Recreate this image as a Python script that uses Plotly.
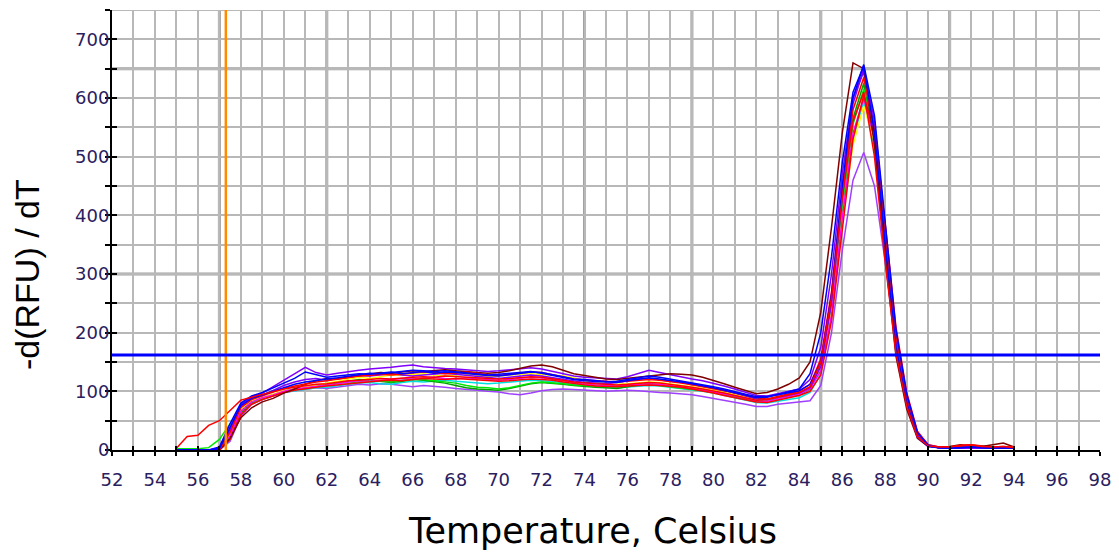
import plotly.graph_objects as go

# ---------------- data ----------------
TEMP = [55.0, 55.5, 56.0, 56.5, 57.0, 57.5, 58.0, 58.5, 59.0, 59.5,
        60.0, 60.5, 61.0, 61.5, 62.0, 62.5, 63.0, 63.5, 64.0, 64.5,
        65.0, 65.5, 66.0, 66.5, 67.0, 67.5, 68.0, 68.5, 69.0, 69.5,
        70.0, 70.5, 71.0, 71.5, 72.0, 72.5, 73.0, 73.5, 74.0, 74.5,
        75.0, 75.5, 76.0, 76.5, 77.0, 77.5, 78.0, 78.5, 79.0, 79.5,
        80.0, 80.5, 81.0, 81.5, 82.0, 82.5, 83.0, 83.5, 84.0, 84.5,
        85.0, 85.5, 86.0, 86.5, 87.0, 87.5, 88.0, 88.5, 89.0, 89.5,
        90.0, 90.5, 91.0, 91.5, 92.0, 92.5, 93.0, 93.5, 94.0]

red_1 = [3, 23, 25, 42, 50, 68, 85, 90, 95, 99,
         104, 107, 110, 112, 113, 116, 118, 119, 121, 122,
         121, 123, 124, 125, 124, 126, 125, 124, 123, 122,
         121, 122, 124, 125, 124, 122, 119, 116, 114, 113,
         112, 111, 112, 114, 115, 114, 112, 109, 107, 104,
         101, 97, 93, 89, 85, 86, 90, 94, 98, 108,
         150, 260, 430, 560, 610, 500, 320, 165, 75, 22,
         7, 5, 5, 8, 9, 6, 5, 6, 4]

green_1 = [2, 2, 2, 4, 18, 45, 70, 82, 88, 95,
           100, 104, 106, 109, 112, 115, 114, 117, 119, 118,
           116, 119, 121, 120, 118, 117, 114, 110, 107, 106,
           104, 106, 110, 114, 116, 115, 113, 111, 110, 109,
           108, 108, 110, 112, 112, 110, 108, 106, 104, 101,
           98, 95, 92, 88, 84, 85, 89, 92, 96, 104,
           140, 245, 410, 555, 615, 520, 345, 180, 85, 28,
           8, 4, 3, 4, 5, 4, 3, 4, 3]

blue_1 = [0, 0, 0, 0, 5, 45, 80, 92, 98, 106,
          115, 122, 133, 128, 124, 126, 128, 130, 129, 131,
          133, 130, 132, 134, 131, 133, 132, 130, 128, 127,
          126, 128, 131, 133, 132, 128, 124, 121, 120, 118,
          117, 115, 118, 121, 123, 121, 119, 116, 113, 110,
          106, 102, 98, 93, 89, 90, 95, 99, 104, 130,
          200, 330, 490, 610, 655, 540, 350, 175, 80, 22,
          6, 4, 3, 4, 5, 4, 3, 4, 3]

purple_1 = [0, 0, 0, 0, 3, 35, 78, 90, 97, 108,
            120, 130, 141, 132, 128, 131, 134, 136, 138, 139,
            141, 143, 145, 142, 140, 139, 138, 137, 135, 134,
            135, 137, 139, 140, 138, 134, 129, 126, 124, 123,
            122, 121, 125, 130, 136, 132, 128, 124, 121, 118,
            114, 109, 104, 98, 93, 92, 96, 100, 104, 120,
            175, 300, 470, 600, 645, 550, 365, 185, 88, 25,
            7, 4, 3, 3, 4, 3, 3, 3, 3]

purple_2 = [0, 0, 0, 0, 0, 15, 58, 78, 86, 92,
            98, 101, 104, 106, 105, 107, 110, 112, 111, 113,
            112, 110, 108, 110, 109, 107, 105, 104, 102, 100,
            99, 96, 94, 97, 101, 103, 104, 103, 102, 101,
            100, 101, 102, 101, 99, 98, 97, 96, 94, 91,
            88, 85, 81, 78, 74, 74, 78, 80, 81, 84,
            110, 200, 340, 460, 507, 450, 320, 180, 90, 30,
            9, 5, 4, 4, 5, 4, 4, 4, 3]

maroon_1 = [0, 0, 0, 0, 0, 20, 55, 72, 82, 88,
            97, 104, 112, 118, 122, 121, 124, 127, 129, 132,
            131, 133, 135, 134, 136, 137, 135, 133, 132, 131,
            132, 135, 139, 143, 145, 142, 136, 130, 127, 124,
            121, 120, 122, 125, 127, 129, 130, 129, 128, 124,
            119, 113, 107, 101, 96, 98, 104, 112, 123, 150,
            235, 380, 540, 660, 650, 520, 330, 160, 70, 20,
            6, 5, 6, 9, 8, 6, 9, 12, 5]

yellow_1 = [0, 0, 0, 0, 0, 28, 70, 84, 90, 96,
            101, 104, 107, 110, 113, 117, 121, 124, 122, 125,
            128, 127, 129, 130, 128, 126, 128, 129, 127, 125,
            126, 128, 129, 130, 129, 127, 126, 123, 118, 115,
            113, 112, 113, 115, 116, 115, 113, 111, 108, 105,
            102, 98, 94, 90, 86, 86, 90, 94, 98, 106,
            140, 235, 390, 520, 586, 525, 370, 195, 92, 30,
            8, 4, 3, 5, 6, 4, 4, 5, 4]

magenta_1 = [0, 0, 0, 0, 0, 24, 66, 82, 89, 94,
             100, 104, 106, 108, 110, 113, 116, 118, 117, 119,
             120, 122, 121, 123, 124, 122, 121, 123, 122, 120,
             119, 120, 122, 124, 123, 121, 118, 115, 112, 111,
             110, 109, 111, 112, 113, 112, 110, 108, 105, 102,
             99, 96, 92, 88, 84, 83, 87, 91, 95, 104,
             135, 230, 395, 540, 600, 530, 360, 190, 88, 27,
             7, 4, 4, 6, 5, 4, 4, 5, 4]

cyan_1 = [0, 0, 0, 0, 0, 18, 62, 80, 87, 93,
          98, 101, 104, 106, 107, 110, 112, 114, 115, 113,
          112, 115, 117, 116, 118, 119, 117, 116, 114, 113,
          114, 116, 118, 119, 118, 117, 115, 112, 110, 108,
          107, 106, 107, 109, 110, 109, 107, 105, 103, 100,
          97, 93, 89, 85, 81, 80, 83, 86, 89, 98,
          130, 225, 385, 530, 595, 515, 350, 185, 86, 26,
          7, 4, 3, 4, 4, 3, 3, 4, 3]

green_2 = [0, 0, 0, 0, 0, 22, 64, 81, 88, 94,
           99, 103, 105, 108, 111, 114, 118, 120, 119, 117,
           115, 117, 120, 119, 117, 114, 110, 106, 104, 103,
           102, 105, 109, 113, 115, 114, 112, 110, 108, 107,
           106, 105, 108, 111, 113, 111, 109, 107, 105, 102,
           99, 95, 91, 87, 83, 84, 88, 91, 94, 103,
           145, 255, 420, 565, 625, 520, 340, 172, 80, 24,
           7, 4, 3, 4, 5, 4, 3, 4, 3]

red_2 = [0, 0, 0, 0, 0, 30, 72, 86, 92, 99,
         105, 109, 113, 116, 118, 121, 124, 126, 127, 129,
         128, 130, 131, 133, 132, 130, 131, 133, 131, 128,
         127, 129, 131, 133, 132, 129, 125, 121, 119, 118,
         117, 116, 117, 119, 120, 119, 117, 114, 111, 108,
         105, 101, 97, 93, 89, 87, 91, 95, 100, 112,
         155, 270, 440, 580, 635, 545, 375, 195, 90, 28,
         8, 5, 5, 7, 8, 6, 5, 6, 5]

blue_2 = [0, 0, 0, 0, 2, 38, 76, 88, 94, 100,
          107, 112, 116, 119, 121, 123, 126, 129, 131, 130,
          132, 135, 136, 135, 134, 135, 133, 131, 129, 128,
          129, 131, 133, 134, 131, 127, 123, 120, 118, 117,
          116, 117, 120, 124, 126, 124, 121, 118, 115, 112,
          108, 104, 99, 95, 91, 91, 94, 97, 101, 112,
          150, 265, 450, 600, 657, 570, 390, 205, 95, 30,
          8, 4, 3, 4, 5, 4, 3, 4, 3]

red_3 = [0, 0, 0, 0, 0, 18, 60, 78, 86, 92,
         98, 102, 105, 107, 109, 111, 113, 115, 117, 118,
         119, 118, 120, 122, 121, 120, 122, 121, 119, 118,
         117, 118, 120, 121, 120, 119, 116, 113, 111, 109,
         108, 108, 109, 110, 111, 110, 109, 107, 104, 101,
         97, 93, 89, 86, 82, 81, 85, 89, 93, 100,
         128, 220, 380, 530, 605, 540, 385, 210, 98, 32,
         9, 5, 5, 6, 9, 7, 5, 5, 4]

purple_3 = [0, 0, 0, 0, 2, 32, 74, 87, 93, 101,
            110, 116, 120, 122, 119, 122, 125, 127, 126, 128,
            130, 128, 126, 128, 130, 131, 129, 127, 125, 124,
            122, 124, 126, 128, 126, 123, 120, 117, 115, 114,
            113, 115, 118, 121, 122, 120, 118, 115, 112, 109,
            106, 102, 97, 92, 87, 86, 90, 93, 97, 106,
            142, 250, 430, 590, 650, 560, 380, 200, 94, 29,
            8, 4, 3, 3, 4, 3, 3, 3, 3]

SERIES = [
    ("purple_2", purple_2, "#a040ff"),
    ("cyan_1", cyan_1, "#00e0e0"),
    ("green_2", green_2, "#00a000"),
    ("green_1", green_1, "#00e800"),
    ("yellow_1", yellow_1, "#ffff00"),
    ("magenta_1", magenta_1, "#ff00ff"),
    ("red_3", red_3, "#ff0000"),
    ("purple_1", purple_1, "#8000ff"),
    ("purple_3", purple_3, "#8000ff"),
    ("maroon_1", maroon_1, "#800000"),
    ("red_2", red_2, "#ff0000"),
    ("blue_2", blue_2, "#0000ff"),
    ("blue_1", blue_1, "#0000ff"),
    ("red_1", red_1, "#ff0000"),
]

X_TICKS = [52, 54, 56, 58, 60, 62, 64, 66, 68, 70, 72, 74, 76, 78, 80,
           82, 84, 86, 88, 90, 92, 94, 96, 98]
X_LABELS = [str(v) for v in X_TICKS]
Y_TICKS = [0, 100, 200, 300, 400, 500, 600, 700]
Y_LABELS = [str(v) for v in Y_TICKS]

X_RANGE = [52, 98]
Y_RANGE = [0, 750]
BEGIN_TEMP = 57.3          # orange marker line
THRESHOLD = 162            # blue threshold line
THICK_X = [57, 62, 74, 79, 85, 91]
THICK_Y = [300, 650]

# ---------------- figure ----------------
fig = go.Figure()
for name, vals, col in SERIES:
    fig.add_trace(go.Scatter(x=TEMP, y=vals, mode="lines", name=name,
                             line=dict(color=col, width=1.5),
                             showlegend=False, hoverinfo="skip"))

# invisible trace on overlay axes so the inside ticks are drawn
fig.add_trace(go.Scatter(x=[None], y=[None], xaxis="x2", yaxis="y2",
                         showlegend=False, hoverinfo="skip"))

tick_font = dict(family="DejaVu Sans", size=18, color="#2a2060")
grid_col = "#b8b8b8"

fig.update_layout(
    template="none",
    width=1119, height=557,
    margin=dict(l=112, r=19, t=10, b=107, autoexpand=False),
    paper_bgcolor="white", plot_bgcolor="white",
    xaxis=dict(range=X_RANGE, tickmode="array", tickvals=X_TICKS,
               ticktext=X_LABELS, tickfont=tick_font, automargin=False,
               showgrid=True, gridcolor=grid_col, gridwidth=2,
               ticks="outside", ticklen=4, tickwidth=2, tickcolor="black",
               showline=True, linecolor="black", linewidth=2,
               zeroline=False, ticklabelstandoff=8,
               minor=dict(dtick=1, tick0=52, showgrid=True, gridcolor=grid_col,
                          gridwidth=2, ticks="outside", ticklen=4,
                          tickwidth=2, tickcolor="black")),
    yaxis=dict(range=Y_RANGE, tickmode="array", tickvals=Y_TICKS,
               ticktext=Y_LABELS, tickfont=tick_font, automargin=False,
               showgrid=True, gridcolor=grid_col, gridwidth=2,
               ticks="outside", ticklen=5, tickwidth=2, tickcolor="black",
               showline=True, linecolor="black", linewidth=2,
               zeroline=False, ticklabelstandoff=-8,
               minor=dict(dtick=50, tick0=0, showgrid=True, gridcolor=grid_col,
                          gridwidth=2, ticks="outside", ticklen=5,
                          tickwidth=2, tickcolor="black")),
    xaxis2=dict(range=X_RANGE, overlaying="x", anchor="y2", dtick=1, tick0=52,
                ticks="inside", ticklen=4, tickwidth=2, tickcolor="black",
                showticklabels=False, showgrid=False, zeroline=False,
                automargin=False, side="bottom"),
    yaxis2=dict(range=Y_RANGE, overlaying="y", anchor="x2", dtick=50, tick0=0,
                ticks="inside", ticklen=5, tickwidth=2, tickcolor="black",
                showticklabels=False, showgrid=False, zeroline=False,
                automargin=False, side="left"),
)

shapes = []
for xv in THICK_X:
    shapes.append(dict(type="line", xref="x", yref="paper", x0=xv, x1=xv,
                       y0=0, y1=1, layer="below",
                       line=dict(color="#a0a0a0", width=3)))
for yv in THICK_Y:
    shapes.append(dict(type="line", xref="paper", yref="y", x0=0, x1=1,
                       y0=yv, y1=yv, layer="below",
                       line=dict(color="#a0a0a0", width=3)))
# top border gridline
shapes.append(dict(type="line", xref="paper", yref="y", x0=0, x1=1,
                   y0=Y_RANGE[1], y1=Y_RANGE[1], layer="below",
                   line=dict(color=grid_col, width=2)))
shapes.append(dict(type="line", xref="x", yref="paper", x0=BEGIN_TEMP,
                   x1=BEGIN_TEMP, y0=0, y1=1, layer="above",
                   line=dict(color="#ff8c00", width=2.5)))
shapes.append(dict(type="line", xref="paper", yref="y", x0=0, x1=1,
                   y0=THRESHOLD, y1=THRESHOLD, layer="above",
                   line=dict(color="#0000ff", width=3)))
fig.update_layout(shapes=shapes)

fig.add_annotation(text="Temperature, Celsius", xref="paper", yref="paper",
                   x=0.4863, y=-0.184, xanchor="center", yanchor="middle",
                   showarrow=False,
                   font=dict(family="DejaVu Sans", size=35, color="black"))
fig.add_annotation(text="-d(RFU) / dT", xref="paper", yref="paper",
                   x=0, xshift=-85, y=0.3977, xanchor="center",
                   yanchor="middle", textangle=-90, showarrow=False,
                   font=dict(family="Liberation Sans", size=34, color="black"))

fig.write_html("out.html", config={"displayModeBar": False},
               post_script="document.body.style.margin='0';"
                           "document.body.style.overflow='hidden';")
